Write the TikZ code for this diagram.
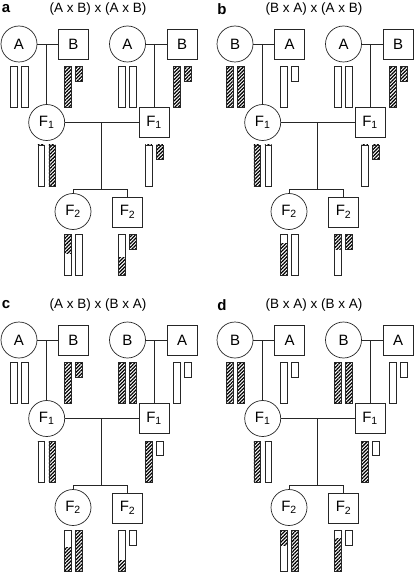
\documentclass[tikz,border=0pt]{standalone}
\usepackage{fontspec}
\setmainfont{Liberation Sans}
\usepackage{tikz}
\usetikzlibrary{calc,patterns.meta}

\tikzset{
  fem/.style={draw,circle,minimum size=36pt,inner sep=0pt,font=\fontsize{15}{15}\selectfont},
  mal/.style={draw,rectangle,minimum size=30pt,inner sep=0pt,font=\fontsize{15}{15}\selectfont},
  lbl/.style={font=\fontsize{15}{15}\selectfont\bfseries,inner sep=0pt},
  ttl/.style={font=\fontsize{13.5}{13.5}\selectfont,inner sep=0pt},
  hatch/.style={pattern={Lines[angle=45,distance=2.5pt,line width=1.25pt]}},
  pics/chr/.style n args={3}{code={
    \fill[white] (-3.3,0) rectangle (3.3,#1);
    \fill[hatch] (-3.3,#2) rectangle (3.3,#3);
    \draw[line width=0.55pt] (-3.3,0) rectangle (3.3,#1);
  }}
}

% one pedigree: panel letter, title, the four grandparents
\newcommand{\pedigree}[6]{%
  \node[lbl] (#1lbl) at (6,9) {#1};
  \node[ttl] (#1ttl) at (98,9) {#2};
  \node[fem] (#1g1) at (19,44) {#3};
  \node[mal] (#1g2) at (73.5,44) {#4};
  \node[fem] (#1g3) at (127.5,44) {#5};
  \node[mal] (#1g4) at (182,44) {#6};
  \node[fem] (#1f1) at (46.7,122.5) {F\textsubscript{1}};
  \node[mal] (#1m1) at (154,122.5) {F\textsubscript{1}};
  \node[fem] (#1f2) at (73,211.5) {F\textsubscript{2}};
  \node[mal] (#1m2) at (127.5,212) {F\textsubscript{2}};
  \coordinate (#1sib) at (101,189);
  \draw (#1g1) -- (#1g2);
  \draw (#1g3) -- (#1g4);
  \draw (#1f1 |- #1g1) -- (#1f1.north);
  \draw (#1m1 |- #1g3) -- (#1m1.north);
  \draw (#1f1) -- (#1m1);
  \draw (#1sib |- #1f1) -- (#1sib);
  \draw (#1f2.north) -- (#1f2.north |- #1sib) -- (#1m2.north |- #1sib) -- (#1m2.north);
}

% two chromosomes under a person: length, hatch from, hatch to (left, then right)
\newcommand{\chrpair}[7]{%
  \pic at ($(#1)+(-5.5,22.5)$) {chr={#2}{#3}{#4}};
  \pic at ($(#1)+(5.5,22.5)$) {chr={#5}{#6}{#7}};
}

\begin{document}
\begin{tikzpicture}[x=1pt,y=-1pt,line width=0.7pt,draw=black!85]
\useasboundingbox (0,0) rectangle (415,572);

% a
\begin{scope}
  \pedigree{a}{(A x B) x (A x B)}{A}{B}{A}{B}
  \chrpair{ag1}{41}{0}{0}{41}{0}{0}
  \chrpair{ag2}{41}{0}{41}{14.5}{0}{14.5}
  \chrpair{ag3}{41}{0}{0}{41}{0}{0}
  \chrpair{ag4}{41}{0}{41}{14.5}{0}{14.5}
  \chrpair{af1}{41}{0}{0}{41}{0}{41}
  \chrpair{am1}{41}{0}{0}{14.5}{0}{14.5}
  \chrpair{af2}{41}{0}{19.5}{41}{0}{0}
  \chrpair{am2}{41}{23}{41}{14.5}{0}{14.5}
\end{scope}

% b
\begin{scope}[shift={(216,0)}]
  \pedigree{b}{(B x A) x (A x B)}{B}{A}{A}{B}
  \chrpair{bg1}{41}{0}{41}{41}{0}{41}
  \chrpair{bg2}{41}{0}{0}{14.5}{0}{0}
  \chrpair{bg3}{41}{0}{0}{41}{0}{0}
  \chrpair{bg4}{41}{0}{41}{14.5}{0}{14.5}
  \chrpair{bf1}{41}{0}{41}{41}{0}{0}
  \chrpair{bm1}{41}{0}{0}{14.5}{0}{14.5}
  \chrpair{bf2}{41}{9}{41}{41}{0}{0}
  \chrpair{bm2}{41}{0}{15}{14.5}{0}{14.5}
\end{scope}

% c
\begin{scope}[shift={(0,296)}]
  \pedigree{c}{(A x B) x (B x A)}{A}{B}{B}{A}
  \chrpair{cg1}{41}{0}{0}{41}{0}{0}
  \chrpair{cg2}{41}{0}{41}{14.5}{0}{14.5}
  \chrpair{cg3}{41}{0}{41}{41}{0}{41}
  \chrpair{cg4}{41}{0}{0}{14.5}{0}{0}
  \chrpair{cf1}{41}{0}{0}{41}{0}{41}
  \chrpair{cm1}{41}{0}{41}{14.5}{0}{0}
  \chrpair{cf2}{41}{17}{41}{41}{0}{41}
  \chrpair{cm2}{41}{30}{41}{14.5}{0}{0}
\end{scope}

% d
\begin{scope}[shift={(216,296)}]
  \pedigree{d}{(B x A) x (B x A)}{B}{A}{B}{A}
  \chrpair{dg1}{41}{0}{41}{41}{0}{41}
  \chrpair{dg2}{41}{0}{0}{14.5}{0}{0}
  \chrpair{dg3}{41}{0}{41}{41}{0}{41}
  \chrpair{dg4}{41}{0}{0}{14.5}{0}{0}
  \chrpair{df1}{41}{0}{41}{41}{0}{0}
  \chrpair{dm1}{41}{0}{41}{14.5}{0}{0}
  \chrpair{df2}{41}{0}{15}{41}{0}{41}
  \chrpair{dm2}{41}{8}{41}{14.5}{0}{0}
\end{scope}
\end{tikzpicture}
\end{document}
